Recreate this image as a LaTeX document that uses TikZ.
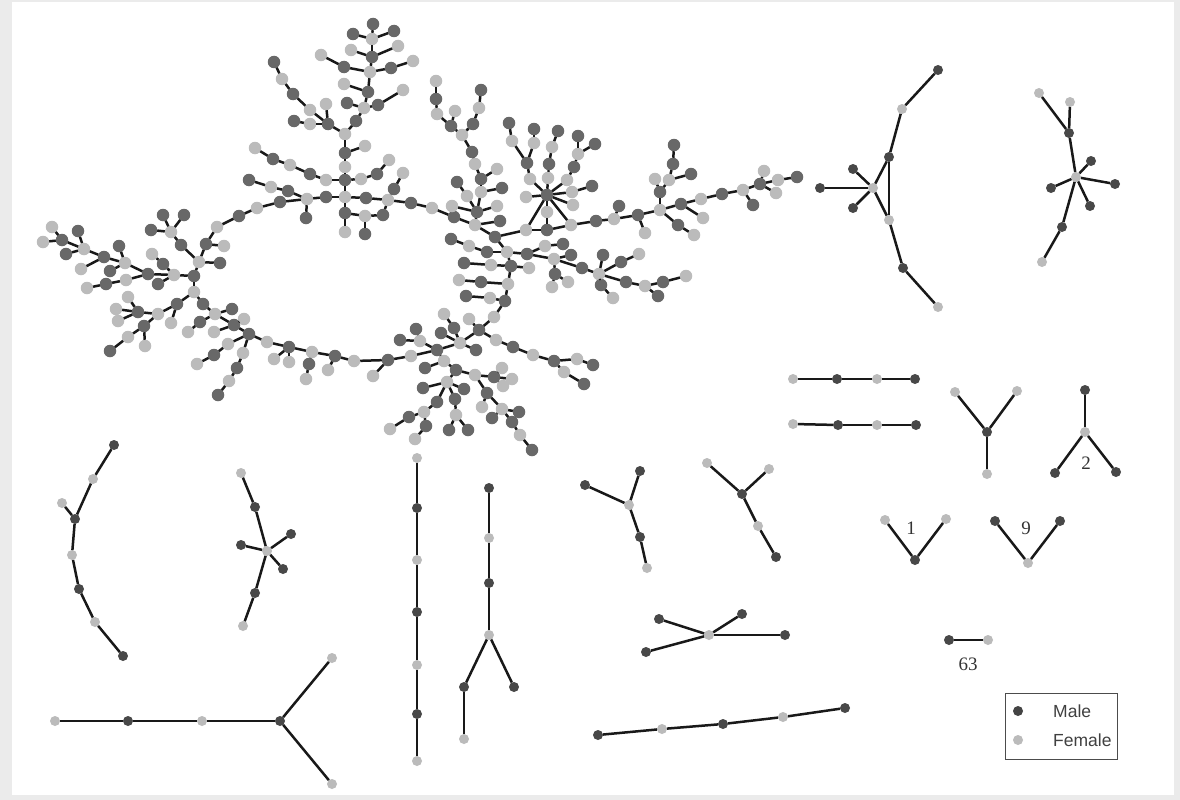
\documentclass[tikz,border=0pt]{standalone}
\usepackage{fontspec}
\setmainfont{Liberation Serif}
\setsansfont{Liberation Sans}
\definecolor{pedmale}   {HTML}{686868}
\definecolor{pedfemale} {HTML}{BBBBBB}
\definecolor{isomale}   {HTML}{484848}
\definecolor{pagegray}  {HTML}{EBEBEB}
\definecolor{keygray}   {HTML}{444444}

\begin{document}
\begin{tikzpicture}[
  x=1pt, y=-1pt,
  male/.style={circle, fill=pedmale, minimum size=12.5pt, inner sep=0pt, outer sep=0pt},
  female/.style={male, fill=pedfemale},
  isom/.style={male, fill=isomale, minimum size=10pt},
  isof/.style={isom, fill=pedfemale},
  link/.style={line width=2.5pt, black!90},
  tally/.style={font=\fontsize{19}{21}\selectfont, text=black!80, inner sep=0pt},
  keytext/.style={font=\sffamily\fontsize{17.5}{20}\selectfont, text=black!75, inner sep=0pt, anchor=west},
  keybox/.style={draw=black!70, line width=1pt, minimum width=112pt, minimum height=66pt, inner sep=0pt},
]
\useasboundingbox (0,0) rectangle (1180,800);
\fill[pagegray] (0,0) rectangle (1180,800);
\fill[white] (12,2) rectangle (1174,795);

% Large pedigree, left part
\foreach \n/\x/\y in {m1/78/231,m2/62/240,m3/66/254,m4/104/257,m5/119/246,m6/110/271,m7/148/274,m8/106/284,m9/158/284,m10/163/264,
  m11/194/276,m12/220/263,m13/181/245,m14/151/230,m15/163/215,m16/184/215,m17/206/244,m18/239/216,m19/280/202,m20/306/218,
  m21/326/197,m22/345/213,m23/177/304,m24/138/312,m25/144/326,m26/110/351,m27/203/304,m28/232/309,m29/200/322,m30/234/325,
  m31/249/334,m32/214/355,m33/237/368,m34/218/395,m35/289/347,m36/309/364,m37/335/356,
  % top
  m38/373/24,m39/353/34,m40/394/31,m41/372/57,m42/344/67,m43/391/68,m44/368/92,m45/347/103,m46/378/105,m47/356/121,
  m48/274/62,m49/293/94,m50/328/124,m51/294/121,m52/345/153,m53/345/180,m54/273/159,m55/310/174,m56/377/174,m57/394/189,
  m58/288/191,m59/249/180,m60/366/198,m61/383/215,m62/365/234,m63/411/203,
  % centre and star
  m64/436/99,m65/451/126,m66/481/90,m67/473/124,m68/472/152,m69/481/179,m70/457/182,m71/502/188,m72/477/212,m73/500/221,
  m74/454/217,m75/495/237,m76/547/230,m77/596/221,m78/547/195,m79/527/163,m80/509/123,m81/534/129,m82/549/164,m83/558/131,
  m84/574/167,m85/578/136,m86/595/144,m87/592/186,m88/619/206,
  % right arm
  m89/638/215,m90/660/192,m91/673/164,m92/674/145,m93/691/174,m94/681/204,m95/722/194,m96/753/205,m97/760/184,m98/797/177,m99/678/225,
  % lower right arm
  m100/451/239,m101/487/252,m102/527/254,m103/563/244,m104/571/255,m105/555/274,m106/582/268,m107/603/255,m108/621/262,m109/626/282,
  m110/663/282,m111/658/296,m112/601/285,m113/511/266,m114/464/263,m115/481/282,m116/466/296,m117/505/301,m118/479/330,m119/454/328,m120/441/333,
  % bottom
  m121/476/350,m122/513/347,m123/554/361,m124/593/365,m125/584/384,m126/416/329,m127/400/340,m128/437/350,m129/388/360,m130/425/368,
  m131/456/370,m132/423/388,m133/464/389,m134/455/399,m135/449/430,m136/468/430,m137/437/402,m138/409/417,m139/426/426,m140/494/377,
  m141/487/393,m142/519/412,m143/492/418,m144/512/422,m145/532/450}
  \node[male] (\n) at (\x,\y) {};

\foreach \n/\x/\y in {f1/52/227,f2/43/242,f3/84/249,f4/81/269,f5/125/263,f6/126/280,f7/87/288,f8/174/275,f9/152/254,f10/199/262,
  f11/171/232,f12/224/246,f13/217/227,f14/257/208,f15/307/199,f16/345/197,f17/345/232,f18/194/292,f19/158/314,f20/171/323,
  f21/128/297,f22/116/309,f23/118/321,f24/145/346,f25/128/337,f26/215/314,f27/244/319,f28/188/332,f29/214/332,f30/228/344,
  f31/197/364,f32/243/353,f33/229/381,f34/267/342,f35/274/359,f36/289/362,f37/312/352,f38/306/379,f39/328/370,f40/354/361,
  % top
  f41/372/39,f42/351/50,f43/398/46,f44/321/55,f45/370/72,f46/413/61,f47/344/84,f48/403/90,f49/364/108,f50/345/134,
  f51/282/79,f52/310/110,f53/326/104,f54/310/124,f55/365/146,f56/345/167,f57/255/148,f58/290/165,f59/326/180,f60/361/179,
  f61/389/160,f62/403/173,f63/271/187,f64/388/200,f65/365/216,f66/432/208,
  % centre and star
  f67/436/81,f68/437/114,f69/455/111,f70/479/108,f71/462/135,f72/475/164,f73/497/169,f74/467/196,f75/481/192,f76/497/206,
  f77/452/206,f78/475/225,f79/526/230,f80/571/225,f81/614/219,f82/526/197,f83/530/179,f84/512/141,f85/534/143,f86/548/178,
  f87/552/147,f88/567/180,f89/578/154,f90/572/192,f91/573/205,f92/547/212,
  % right arm
  f93/645/233,f94/660/210,f95/655/179,f96/669/180,f97/703/218,f98/701/199,f99/743/190,f100/764/171,f101/778/180,f102/776/193,f103/694/235,
  % lower right arm
  f104/469/246,f105/507/252,f106/545/246,f107/554/259,f108/552/287,f109/568/282,f110/599/274,f111/639/254,f112/645/286,f113/686/276,
  f114/613/298,f115/491/265,f116/529/268,f117/459/280,f118/508/284,f119/490/298,f120/494/317,f121/469/319,f122/444/314,
  % bottom
  f123/460/343,f124/496/340,f125/533/355,f126/577/359,f127/564/372,f128/420/341,f129/411/356,f130/373/376,f131/444/361,f132/447/382,
  f133/456/415,f134/424/412,f135/390/429,f136/415/439,f137/475/375,f138/502/368,f139/512/379,f140/503/386,f141/482/407,f142/502/409,f143/520/435}
  \node[female] (\n) at (\x,\y) {};

\foreach \a/\b in {f1/m2,f2/m2,m3/f3,m2/f3,m1/f3,f4/m4,f3/m4,m4/f5,m5/f5,m6/f5,f5/m7,f7/m8,m8/f6,f6/m7,m7/f8,m9/f8,f9/m10,m10/f8,f8/m11,
  m11/f10,f10/m12,f10/m13,m13/f11,m14/f11,m15/f11,m16/f11,f10/m17,m17/f12,m17/f13,f13/m18,m18/f14,f14/m19,m19/f15,
  m11/f18,f18/m23,m23/f19,m23/f20,f19/m24,f21/m24,f22/m24,f23/m24,f19/m25,m25/f24,m25/f25,f25/m26,
  f18/m27,m27/f26,f26/m28,f26/m29,m29/f28,f26/m30,m30/f27,m30/f29,m30/m31,m31/f30,f30/m32,m32/f31,m31/f32,f32/m33,m33/f33,f33/m34,
  m31/f34,f34/m35,m35/f35,m35/f36,m35/f37,f37/m36,m36/f38,f37/m37,m37/f39,m37/f40,
  % top
  m38/f41,m39/f41,m40/f41,f41/m41,f42/m41,f43/m41,m41/f45,f44/m42,m42/f45,f45/m43,m43/f46,f45/m44,f47/m44,m44/f49,m45/f49,f49/m46,m46/f48,
  f49/m47,m47/f50,f50/m50,m48/f51,f51/m49,m49/f52,f52/m50,f53/m50,f54/m50,m51/f54,f50/m52,m52/f55,m52/f56,f56/m53,m53/f16,f57/m54,m54/f58,
  f58/m55,m55/f59,f59/m53,m53/f60,f60/m56,m56/f61,f62/m57,m57/f64,f16/m21,m21/f15,m59/f63,f63/m58,m58/f15,m20/f15,f16/m60,m60/f64,
  f64/m61,m61/f65,f65/m62,f16/m22,m22/f17,m22/f65,f64/m63,m63/f66,f66/m74,
  % centre and star
  f67/m64,m64/f68,f68/m65,f69/m65,m65/f71,m66/f70,f70/m67,m67/f71,f71/m68,m68/f72,f72/m69,f73/m69,m69/f75,f75/m71,f75/m72,m70/f74,f74/m72,
  f77/m72,f76/m72,m72/f78,f78/m73,m74/f78,f78/m75,m75/f79,f79/m76,m76/f80,f80/m77,m77/f81,f81/m88,
  m78/f82,m78/f83,m78/f86,m78/f88,m78/f90,m78/f91,m78/f92,m78/f79,m78/f80,f92/m76,f83/m79,m79/f84,f84/m80,m79/f85,f85/m81,f86/m82,m82/f87,
  f87/m83,f88/m84,m84/f89,f89/m85,f89/m86,f90/m87,
  % right arm
  f81/m89,m89/f93,m89/f94,f94/m90,m90/f96,f95/m90,f96/m91,m91/m92,f96/m93,f94/m94,m94/f97,m94/f98,f98/m95,m95/f99,f99/m96,f99/m97,m97/f100,
  m97/f101,f101/m98,m97/f102,f94/m99,m99/f103,
  % lower right arm
  m75/f105,m100/f104,f104/m101,m101/f105,f105/m102,f105/m113,m102/f106,f106/m103,m102/f107,f107/m104,f107/m105,m105/f108,m105/f109,f107/m106,
  m106/f110,f110/m107,f110/m108,m108/f111,f110/m109,m109/f112,f112/m110,m110/f113,f112/m111,f110/m112,m112/f114,m114/f115,f115/m113,m113/f116,
  m113/f118,f117/m115,m115/f118,f118/m117,m116/f119,f119/m117,m117/f120,f120/m118,
  % bottom
  f122/m119,m119/f123,m120/f123,f121/m118,m118/f123,f123/m121,m118/f124,f124/m122,m122/f125,f125/m123,m123/f126,f126/m124,m123/f127,f127/m125,
  f123/m128,m126/f128,m127/f128,f128/m128,m128/f129,f129/m129,m129/f40,m129/f130,m128/f131,f131/m130,f131/m131,m131/f132,m131/f137,f132/m132,
  f132/m133,f132/m134,m134/f133,f133/m135,f133/m136,f132/m137,m137/f134,f134/m138,m138/f135,f134/m139,m139/f136,f137/m140,m140/f138,m140/f139,
  m140/f140,f137/m141,m141/f141,m141/f142,f142/m142,f142/m143,f142/m144,m144/f143,f143/m145}
  \draw[link] (\a) -- (\b);

% Small pedigrees
\foreach \n/\x/\y in {sm1/938/70,sm2/889/157,sm3/853/169,sm4/820/188,sm5/853/208,sm6/903/268,
  sm7/1069/133,sm8/1091/161,sm9/1115/184,sm10/1051/188,sm11/1090/206,sm12/1062/227,
  sm13/837/379,sm14/915/379,sm15/838/425,sm16/916/425,sm17/987/432,sm18/1085/390,sm19/1055/473,sm20/1116/472,
  sm21/915/560,sm22/995/521,sm23/1060/521,sm24/949/640,
  sm25/114/445,sm26/75/519,sm27/79/589,sm28/123/656,sm29/255/507,sm30/291/534,sm31/241/545,sm32/283/569,sm33/255/593,
  sm34/128/721,sm35/280/721,sm36/417/508,sm37/417/612,sm38/417/714,sm39/489/488,sm40/489/583,sm41/464/687,sm42/514/687,
  sm43/585/485,sm44/640/471,sm45/640/537,sm46/742/494,sm47/776/557,sm48/659/619,sm49/742/614,sm50/785/635,sm51/646/652,
  sm52/598/735,sm53/723/724,sm54/845/708}
  \node[isom] (\n) at (\x,\y) {};

\foreach \n/\x/\y in {sf1/902/109,sf2/873/188,sf3/889/220,sf4/938/307,sf5/1039/93,sf6/1070/102,sf7/1076/177,sf8/1042/262,
  sf9/793/379,sf10/877/379,sf11/793/424,sf12/877/425,sf13/955/392,sf14/1017/391,sf15/987/474,sf16/1085/432,
  sf17/885/520,sf18/946/519,sf19/1028/563,sf20/988/640,
  sf21/93/479,sf22/62/503,sf23/72/555,sf24/95/622,sf25/241/473,sf26/267/551,sf27/243/626,
  sf28/55/721,sf29/202/721,sf30/332/658,sf31/332/784,sf32/417/458,sf33/417/560,sf34/417/665,sf35/417/761,
  sf36/489/538,sf37/489/635,sf38/464/739,sf39/629/505,sf40/647/568,sf41/707/463,sf42/769/469,sf43/758/526,
  sf44/709/635,sf45/662/729,sf46/783/717}
  \node[isof] (\n) at (\x,\y) {};

\foreach \a/\b in {sm1/sf1,sf1/sm2,sm2/sf2,sm3/sf2,sm4/sf2,sm5/sf2,sf2/sf3,sm2/sf3,sf3/sm6,sm6/sf4,
  sf5/sm7,sf6/sm7,sm7/sf7,sf7/sm8,sf7/sm9,sf7/sm10,sf7/sm11,sf7/sm12,sm12/sf8,
  sf9/sm13,sm13/sf10,sf10/sm14,sf11/sm15,sm15/sf12,sf12/sm16,
  sf13/sm17,sf14/sm17,sm17/sf15,sm18/sf16,sf16/sm19,sf16/sm20,
  sf17/sm21,sf18/sm21,sm22/sf19,sm23/sf19,sm24/sf20,
  sm25/sf21,sf21/sm26,sf22/sm26,sm26/sf23,sf23/sm27,sm27/sf24,sf24/sm28,
  sf25/sm29,sm29/sf26,sf26/sm30,sf26/sm31,sf26/sm32,sf26/sm33,sm33/sf27,
  sf28/sm34,sm34/sf29,sf29/sm35,sm35/sf30,sm35/sf31,
  sf32/sm36,sm36/sf33,sf33/sm37,sm37/sf34,sf34/sm38,sm38/sf35,
  sm39/sf36,sf36/sm40,sm40/sf37,sf37/sm41,sm41/sf38,sf37/sm42,
  sm43/sf39,sm44/sf39,sf39/sm45,sm45/sf40,sf41/sm46,sf42/sm46,sm46/sf43,sf43/sm47,
  sm48/sf44,sm49/sf44,sm50/sf44,sm51/sf44,sm52/sf45,sf45/sm53,sm53/sf46,sf46/sm54}
  \draw[link] (\a) -- (\b);

% Counts
\node[tally] (two)   at (1086,463) {2};
\node[tally] (one)   at (911,528)  {1};
\node[tally] (nine)  at (1026,528) {9};
\node[tally] (sixty) at (968,664)  {63};

% Legend
\node[keybox] (key) at (1061,726) {};
\node[isom, fill=keygray] (keym) at (1018,711) {};
\node[isof] (keyf) at (1018,740) {};
\node[keytext] (keymale)   at (1053,711) {Male};
\node[keytext] (keyfemale) at (1053,740) {Female};
\end{tikzpicture}
\end{document}
